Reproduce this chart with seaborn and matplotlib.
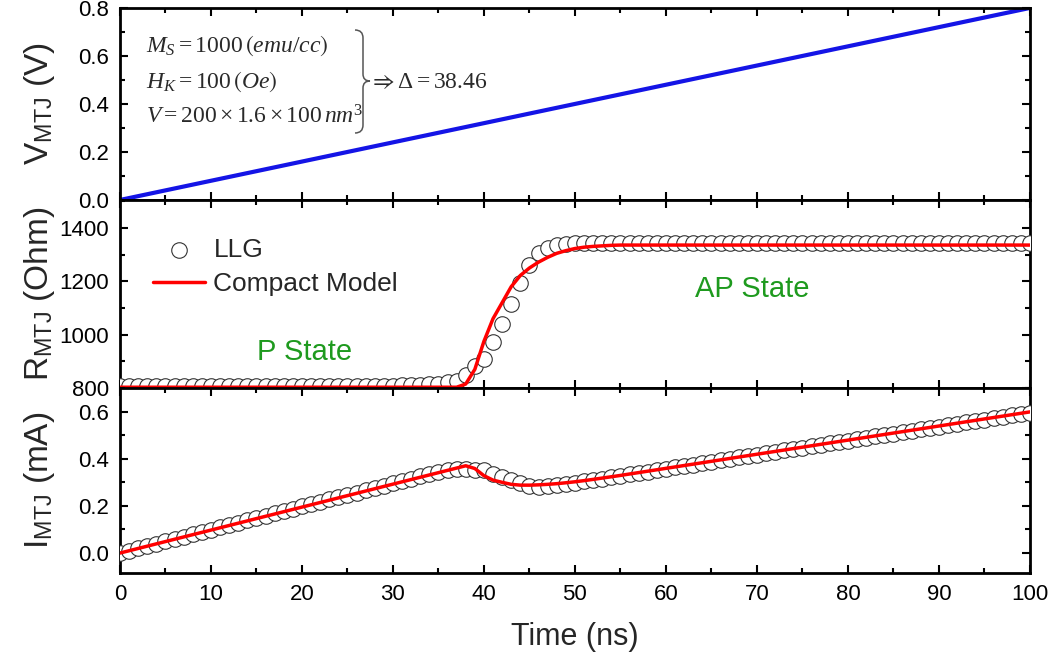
import matplotlib
matplotlib.use("Agg")
import matplotlib.pyplot as plt
import seaborn as sns
import pandas as pd
from matplotlib.path import Path
from matplotlib.patches import PathPatch
from matplotlib.ticker import MultipleLocator


# Data

time_ns = [
    0, 1, 2, 3, 4, 5, 6, 7, 8, 9, 10, 11, 12, 13, 14, 15, 16, 17, 18, 19,
    20, 21, 22, 23, 24, 25, 26, 27, 28, 29, 30, 31, 32, 33, 34, 35, 36, 37, 38, 39,
    40, 41, 42, 43, 44, 45, 46, 47, 48, 49, 50, 51, 52, 53, 54, 55, 56, 57, 58, 59,
    60, 61, 62, 63, 64, 65, 66, 67, 68, 69, 70, 71, 72, 73, 74, 75, 76, 77, 78, 79,
    80, 81, 82, 83, 84, 85, 86, 87, 88, 89, 90, 91, 92, 93, 94, 95, 96, 97, 98, 99,
    100,
]

v_time = [0, 100]
v_mtj = [0.0, 0.8]

r_llg = [
    808, 808, 808, 808, 808, 808, 808, 808, 808, 808, 808, 808, 808, 808, 808, 808, 808, 808, 808, 808,
    808, 808, 808, 808, 808, 808, 808, 808, 808, 808, 809, 810, 811, 812, 814, 817, 822, 826, 850, 881,
    909, 972, 1040, 1116, 1193, 1262, 1305, 1325, 1336, 1340, 1342, 1342, 1342, 1342, 1342, 1342, 1342, 1342, 1342, 1342,
    1342, 1342, 1342, 1342, 1342, 1342, 1342, 1342, 1342, 1342, 1342, 1342, 1342, 1342, 1342, 1342, 1342, 1342, 1342, 1342,
    1342, 1342, 1342, 1342, 1342, 1342, 1342, 1342, 1342, 1342, 1342, 1342, 1342, 1342, 1342, 1342, 1342, 1342, 1342, 1342,
    1342,
]

r_model = [
    803, 803, 803, 803, 803, 803, 803, 803, 803, 803, 803, 803, 803, 803, 803, 803, 803, 803, 803, 803,
    803, 803, 803, 803, 803, 803, 803, 803, 803, 803, 803, 803, 803, 803, 803, 803, 803, 803, 815, 870,
    975, 1060, 1120, 1180, 1222, 1250, 1272, 1290, 1305, 1315, 1323, 1328, 1331, 1333, 1335, 1336, 1336, 1336, 1336, 1336,
    1336, 1336, 1336, 1336, 1336, 1336, 1336, 1336, 1336, 1336, 1336, 1336, 1336, 1336, 1336, 1336, 1336, 1336, 1336, 1336,
    1336, 1336, 1336, 1336, 1336, 1336, 1336, 1336, 1336, 1336, 1336, 1336, 1336, 1336, 1336, 1336, 1336, 1336, 1336, 1336,
    1336,
]

i_llg = [
    0.0000, 0.0099, 0.0198, 0.0296, 0.0395, 0.0494, 0.0593, 0.0691, 0.0790, 0.0889,
    0.0988, 0.1086, 0.1185, 0.1284, 0.1383, 0.1481, 0.1580, 0.1679, 0.1778, 0.1877,
    0.1975, 0.2074, 0.2173, 0.2272, 0.2370, 0.2469, 0.2568, 0.2667, 0.2765, 0.2864,
    0.2963, 0.3058, 0.3153, 0.3251, 0.3342, 0.3427, 0.3504, 0.3584, 0.3576, 0.3541,
    0.3520, 0.3374, 0.3231, 0.3082, 0.2951, 0.2853, 0.2820, 0.2838, 0.2874, 0.2925,
    0.2981, 0.3040, 0.3100, 0.3159, 0.3219, 0.3279, 0.3338, 0.3398, 0.3458, 0.3517,
    0.3577, 0.3636, 0.3696, 0.3756, 0.3815, 0.3875, 0.3934, 0.3994, 0.4054, 0.4113,
    0.4173, 0.4232, 0.4292, 0.4352, 0.4411, 0.4471, 0.4531, 0.4590, 0.4650, 0.4709,
    0.4769, 0.4829, 0.4888, 0.4948, 0.5007, 0.5067, 0.5127, 0.5186, 0.5246, 0.5306,
    0.5365, 0.5425, 0.5484, 0.5544, 0.5604, 0.5663, 0.5723, 0.5782, 0.5842, 0.5902,
    0.5961,
]

i_model = [
    0.0000, 0.0097, 0.0195, 0.0292, 0.0390, 0.0487, 0.0585, 0.0682, 0.0780, 0.0877,
    0.0974, 0.1072, 0.1169, 0.1267, 0.1364, 0.1462, 0.1559, 0.1656, 0.1754, 0.1851,
    0.1949, 0.2046, 0.2144, 0.2241, 0.2339, 0.2436, 0.2533, 0.2631, 0.2728, 0.2826,
    0.2923, 0.3021, 0.3118, 0.3216, 0.3313, 0.3410, 0.3508, 0.3605, 0.3703, 0.3586,
    0.3282, 0.3094, 0.3000, 0.2915, 0.2881, 0.2880, 0.2893, 0.2915, 0.2943, 0.2981,
    0.3023, 0.3072, 0.3125, 0.3181, 0.3236, 0.3293, 0.3353, 0.3413, 0.3473, 0.3533,
    0.3593, 0.3653, 0.3713, 0.3772, 0.3832, 0.3892, 0.3952, 0.4012, 0.4072, 0.4132,
    0.4192, 0.4251, 0.4311, 0.4371, 0.4431, 0.4491, 0.4551, 0.4611, 0.4671, 0.4731,
    0.4790, 0.4850, 0.4910, 0.4970, 0.5030, 0.5090, 0.5150, 0.5210, 0.5269, 0.5329,
    0.5389, 0.5449, 0.5509, 0.5569, 0.5629, 0.5689, 0.5749, 0.5808, 0.5868, 0.5928,
    0.5988,
]

df = pd.DataFrame({
    "t": time_ns,
    "r_llg": r_llg,
    "r_model": r_model,
    "i_llg": i_llg,
    "i_model": i_model,
})


# Style

sns.set_style("ticks")
plt.rcParams["font.family"] = ["Liberation Sans", "DejaVu Sans"]
plt.rcParams["mathtext.fontset"] = "custom"
plt.rcParams["mathtext.rm"] = "Liberation Serif"
plt.rcParams["mathtext.it"] = "Liberation Serif:italic"
plt.rcParams["mathtext.sf"] = "Liberation Sans"
plt.rcParams["mathtext.fallback"] = "stix"

BLUE = "#1414e6"
RED = "#ff0000"
GREEN = "#1e9a1e"


fig, axes = plt.subplots(
    3, 1, figsize=(10.52, 6.61), dpi=100, sharex=True,
    gridspec_kw={"height_ratios": [192, 188, 185], "hspace": 0},
)
fig.subplots_adjust(left=0.114, right=0.979, top=0.988, bottom=0.133)
ax_v, ax_r, ax_i = axes


# V panel

sns.lineplot(x=v_time, y=v_mtj, ax=ax_v, color=BLUE, linewidth=3)
ax_v.set_ylim(0, 0.8)
ax_v.yaxis.set_major_locator(MultipleLocator(0.2))
ax_v.yaxis.set_minor_locator(MultipleLocator(0.1))
ax_v.set_ylabel(r"V$_\mathsf{MTJ}$ (V)")


# R panel

llg_style = dict(marker="o", s=125, facecolor="white", edgecolor="#333333",
                 linewidth=0.8, zorder=3)

sns.scatterplot(data=df, x="t", y="r_llg", ax=ax_r, label="LLG", **llg_style)
sns.lineplot(data=df, x="t", y="r_model", ax=ax_r, color=RED, linewidth=2.5,
             label="Compact Model", zorder=4)
ax_r.set_ylim(800, 1505)
ax_r.yaxis.set_major_locator(MultipleLocator(200))
ax_r.yaxis.set_minor_locator(MultipleLocator(100))
ax_r.set_ylabel(r"R$_\mathsf{MTJ}$ (Ohm)")
ax_r.legend(loc="upper left", bbox_to_anchor=(0.036, 0.80), frameon=False,
            fontsize=19, handlelength=2.0, handletextpad=0.3, labelspacing=0.4,
            borderaxespad=0, borderpad=0)

ax_r.text(20.3, 936, "P State", color=GREEN, fontsize=21, ha="center", va="center")
ax_r.text(69.5, 1170, "AP State", color=GREEN, fontsize=21, ha="center", va="center")


# I panel

sns.scatterplot(data=df, x="t", y="i_llg", ax=ax_i, **llg_style)
sns.lineplot(data=df, x="t", y="i_model", ax=ax_i, color=RED, linewidth=2.5, zorder=4)
ax_i.set_ylim(-0.085, 0.70)
ax_i.yaxis.set_major_locator(MultipleLocator(0.2))
ax_i.yaxis.set_minor_locator(MultipleLocator(0.1))
ax_i.set_ylabel(r"I$_\mathsf{MTJ}$ (mA)")
ax_i.set_xlabel("Time (ns)", fontsize=22, labelpad=12)


# Shared axis cosmetics

for ax in axes:
    ax.set_xlim(0, 100)
    ax.xaxis.set_major_locator(MultipleLocator(10))
    ax.xaxis.set_minor_locator(MultipleLocator(5))
    ax.tick_params(which="both", direction="in", top=True, right=True,
                   width=1.5, labelsize=16, colors="black", pad=8)
    ax.tick_params(which="major", length=6)
    ax.tick_params(which="minor", length=3.5)
    ax.yaxis.label.set_size(24)
    ax.yaxis.set_label_coords(-0.069, 0.5)
    for sp in ax.spines.values():
        sp.set_linewidth(2)
        sp.set_color("black")
    if ax is not ax_i:
        ax.set_xlabel("")
        ax.tick_params(labelbottom=False)


# Parameter annotation

def px(x, y):
    # figure pixels (origin top-left) -> figure fraction
    return x / 1052, 1 - y / 661


ann_color = "#2a2a2a"
fig.text(*px(146, 46), r"$M_S = 1000\,\left(emu/cc\right)$", fontsize=17,
         color=ann_color, va="center")
fig.text(*px(146, 82), r"$H_K = 100\,\left(Oe\right)$", fontsize=17,
         color=ann_color, va="center")
fig.text(*px(146, 117), r"$V = 200\times1.6\times100\,nm^3$", fontsize=17,
         color=ann_color, va="center")
fig.text(*px(369, 82), r"$\Rightarrow\Delta = 38.46$", fontsize=17,
         color=ann_color, va="center")

brace_pts = [px(355, 30), px(363, 30), px(363, 38), px(363, 74), px(363, 81),
             px(370, 81), px(363, 81), px(363, 88), px(363, 125), px(363, 133),
             px(355, 133)]
brace_codes = [Path.MOVETO, Path.CURVE3, Path.CURVE3, Path.LINETO, Path.CURVE3,
               Path.CURVE3, Path.CURVE3, Path.CURVE3, Path.LINETO, Path.CURVE3,
               Path.CURVE3]
fig.add_artist(PathPatch(Path(brace_pts, brace_codes), facecolor="none",
                         edgecolor="#555555", linewidth=1.1,
                         transform=fig.transFigure))

plt.savefig("out.png", dpi=100)
